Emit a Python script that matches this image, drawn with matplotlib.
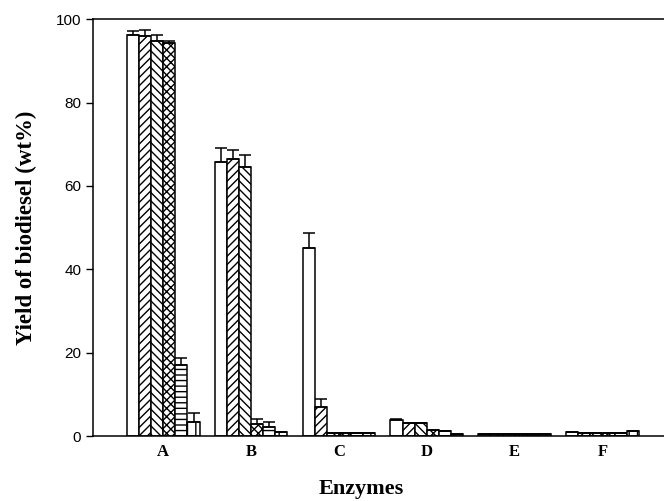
## Import libraries
import numpy as np
import matplotlib.pyplot as plt

## Data
enzymes = ['A', 'B', 'C', 'D', 'E', 'F']
s1 = [96.2, 65.8, 45.2, 3.8, 0.4, 1.0]
s2 = [95.9, 66.4, 6.9, 3.2, 0.4, 0.8]
s3 = [94.8, 64.6, 0.8, 3.2, 0.4, 0.8]
s4 = [94.4, 3.0, 0.8, 1.4, 0.4, 0.8]
s5 = [17.0, 2.2, 0.8, 1.2, 0.4, 0.8]
s6 = [3.4, 1.0, 0.8, 0.6, 0.4, 1.2]
e1 = [1.0, 3.2, 3.6, 0.3, 0, 0]
e2 = [1.6, 2.2, 2.1, 0, 0, 0]
e3 = [1.3, 2.8, 0, 0, 0, 0]
e4 = [0.3, 1.1, 0, 0, 0, 0]
e5 = [1.8, 1.2, 0, 0, 0, 0]
e6 = [2.1, 0, 0, 0, 0, 0]

series = [s1, s2, s3, s4, s5, s6]
errors = [e1, e2, e3, e4, e5, e6]
hatches = ['', '////', '\\\\\\\\', 'xxxx', '---', '||']

## Plot
plt.rcParams['hatch.linewidth'] = 1.0
fig = plt.figure(figsize=(6.64, 5.01), dpi=100)
ax = fig.add_axes([0.140, 0.1297, 0.860, 0.832])

x = np.arange(len(enzymes))
w = 0.138
for i in range(6):
    pos = x + (i - 2.5) * w
    ax.bar(pos, series[i], width=w, color='white', edgecolor='black',
           linewidth=1.1, hatch=hatches[i], zorder=2)
    ax.errorbar(pos, series[i], yerr=[np.zeros(6), errors[i]], fmt='none',
                ecolor='black', elinewidth=1.1, capsize=4.3, capthick=1.1, zorder=3)

ax.set_xlim(-0.8, 5.7)
ax.set_ylim(0, 100)
ax.set_yticks([0, 20, 40, 60, 80, 100])
ax.set_xticks(x)
ax.set_xticklabels(enzymes, fontfamily='Liberation Serif', fontweight='bold', fontsize=12)
ax.tick_params(axis='x', length=0, pad=6)
ax.tick_params(axis='y', direction='out', length=5, width=1, labelsize=11,
               labelfontfamily='Liberation Sans')

ax.spines['right'].set_visible(False)
for sp in ['top', 'left', 'bottom']:
    ax.spines[sp].set_linewidth(1.1)

ax.set_ylabel('Yield of biodiesel (wt%)', fontfamily='Liberation Serif',
              fontweight='bold', fontsize=16.5)
ax.set_xlabel('Enzymes', fontfamily='Liberation Serif', fontweight='bold', fontsize=16)
ax.yaxis.set_label_coords(-0.098, 0.5)
ax.xaxis.set_label_coords(0.469, -0.103)

plt.savefig('out.png', dpi=100)
